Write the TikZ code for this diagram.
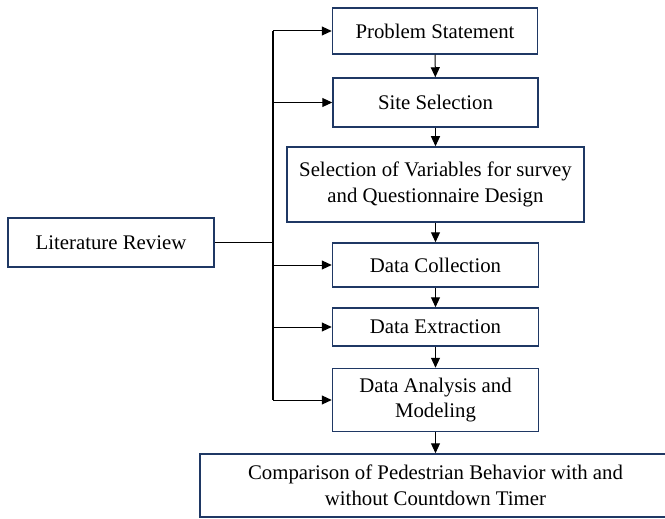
\documentclass[tikz,border=0pt]{standalone}
\usepackage{fontspec}
\setmainfont{Liberation Serif}
\usetikzlibrary{arrows.meta}
\definecolor{boxblue}{RGB}{31,56,100}
\tikzset{
  step box/.style={rectangle,draw=boxblue,line width=1.5pt,inner sep=0pt,align=center,
    font=\fontsize{20.8}{25.5}\selectfont},
  link/.style={line width=1pt,-{Triangle[length=10pt,width=9pt]}}
}

\begin{document}
\begin{tikzpicture}[x=1pt,y=-1pt]
	\useasboundingbox (0,0) rectangle (665,519);
        \node [step box,minimum width=206pt,minimum height=49pt] (lit) at (111,242.5) {Literature Review};
        \node [step box,minimum width=205pt,minimum height=46pt] (prob) at (435,31) {Problem Statement};
        \node [step box,minimum width=205pt,minimum height=49pt] (site) at (435.5,102.5) {Site Selection};
        \node [step box,minimum width=297pt,minimum height=75pt] (vars) at (435.5,184.5) {Selection of Variables for survey\\and Questionnaire Design};
        \node [step box,minimum width=206pt,minimum height=44pt] (coll) at (435.5,265) {Data Collection};
        \node [step box,minimum width=206pt,minimum height=38pt] (extr) at (435.5,327) {Data Extraction};
        \node [step box,minimum width=206pt,minimum height=63pt] (anal) at (435.5,400) {Data Analysis and\\Modeling};
        \node [step box,minimum width=471pt,minimum height=63pt] (comp) at (435.5,485.5) {Comparison of Pedestrian Behavior with and\\without Countdown Timer};
        % main chain
        \draw [link] (prob) -- (site);
        \draw [link] (site) -- (vars);
        \draw [link] (vars) -- (coll);
        \draw [link] (coll) -- (extr);
        \draw [link] (extr) -- (anal);
        \draw [link] (anal) -- (comp);
        % feed from literature review
        \coordinate (top) at (273,31);
        \coordinate (bot) at (273,400);
        \draw [line width=1.6pt] (top) -- (bot);
        \draw [line width=1pt] (lit.east) -- (lit.east -| top);
        \foreach \n in {prob,site,coll,extr,anal}
          \draw [link] (top |- \n.west) -- (\n.west);
\end{tikzpicture}
\end{document}
